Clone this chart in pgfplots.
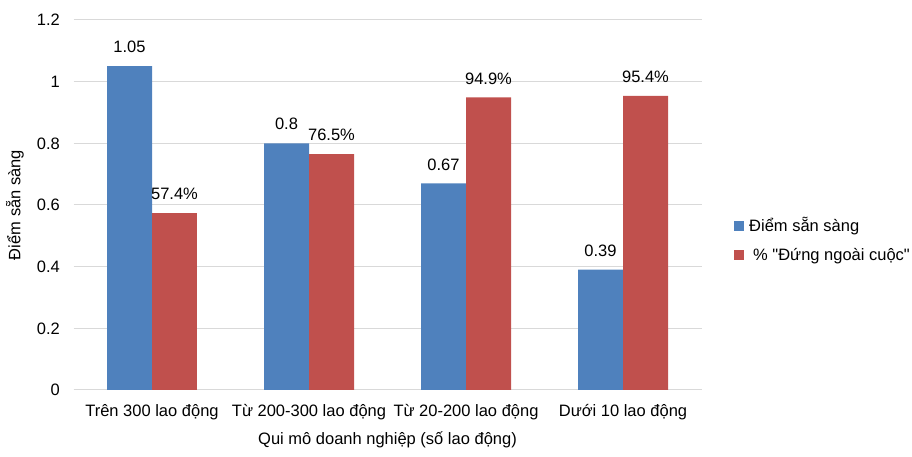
\documentclass[border=0pt]{standalone}
\usepackage{pgfplots}
\pgfplotsset{compat=1.18}
\usepackage{fontspec}
\setmainfont{Liberation Sans}
\definecolor{cblue}{HTML}{4F81BD}
\definecolor{cred}{HTML}{C0504D}
\definecolor{cgrid}{HTML}{D9D9D9}
\newcommand\ff{\fontsize{16.5}{19.8}\selectfont}
\begin{document}
\ff
\begin{tikzpicture}
\useasboundingbox (0,0) rectangle (912pt,457pt);
\begin{axis}[
  at={(73.5pt,67pt)}, anchor=south west,
  scale only axis, width=628pt, height=370pt,
  xmin=-0.5, xmax=3.5, ymin=0, ymax=1.2,
  xtick={0,1,2,3},
  xticklabels={Trên 300 lao động, Từ 200-300 lao động, Từ 20-200 lao động, Dưới 10 lao động},
  ytick={0,0.2,0.4,0.6,0.8,1,1.2},
  yticklabels={0,0.2,0.4,0.6,0.8,1,1.2},
  ymajorgrids, grid style={cgrid, line width=1pt},
  axis x line*=bottom, axis y line*=left,
  y axis line style={draw=none},
  x axis line style={draw=cgrid, line width=1pt},
  major tick length=0pt,
  tick label style={font=\ff, black},
  yticklabel style={anchor=east, inner sep=0pt, xshift=-13.5pt},
  xticklabel style={anchor=center, inner sep=0pt, yshift=-22pt},
  xlabel={Qui mô doanh nghiệp (số lao động)},
  ylabel={Điểm sẵn sàng},
  xlabel style={font=\ff, at={(rel axis cs:0.5,0)}, anchor=center, inner sep=0pt, yshift=-50pt},
  ylabel style={font=\ff, at={(rel axis cs:0,0.5)}, anchor=center, inner sep=0pt, yshift=58.5pt},
  every node near coord/.append style={font=\ff, black, inner sep=0pt, anchor=south, yshift=13pt},
  legend style={draw=none, fill=none, font=\ff, at={(rel axis cs:1,0.5)}, anchor=west,
    xshift=32.5pt, yshift=-35pt, inner sep=0pt, row sep=14pt,
    nodes={inner sep=0pt, inner xsep=5pt}},
  legend cell align=left,
  legend image code/.code={\fill[#1] (0pt,-5pt) rectangle (10pt,5pt);},
]
\addplot[ybar, bar width=0.2866, bar shift=-0.1433, fill=cblue, draw=none,
  nodes near coords, point meta=explicit symbolic,
  every node near coord/.append style={xshift=-22.5pt}] table[meta=lab] {
x y lab
0 1.05 1.05
1 0.8 0.8
2 0.67 0.67
3 0.39 0.39
};
\addlegendentry{Điểm sẵn sàng}
\addplot[ybar, bar width=0.2866, bar shift=0.1433, fill=cred, draw=none,
  nodes near coords, point meta=explicit symbolic,
  every node near coord/.append style={xshift=22.5pt}] table[meta=lab] {
x y lab
0 0.574 57.4\%
1 0.765 76.5\%
2 0.949 94.9\%
3 0.954 95.4\%
};
\addlegendentry{\hspace{4pt}\% \textquotedbl Đứng ngoài cuộc\textquotedbl}
\end{axis}
\end{tikzpicture}
\end{document}
